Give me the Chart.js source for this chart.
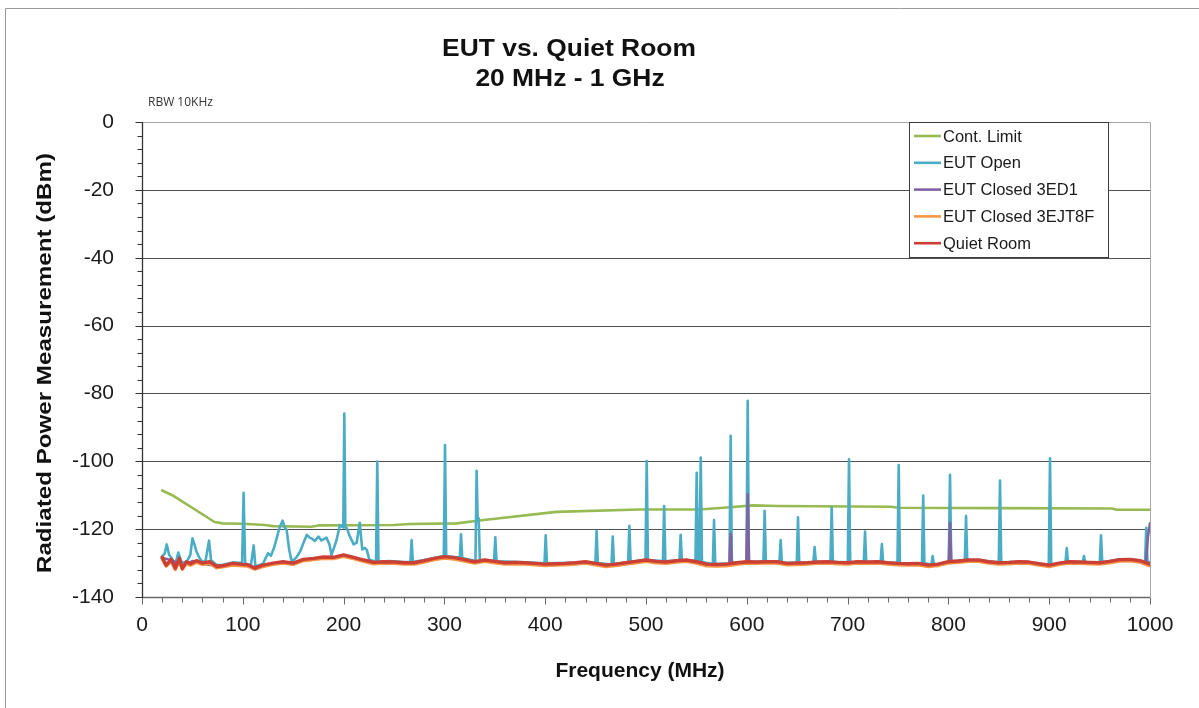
<!DOCTYPE html>
<html>
<head>
<meta charset="utf-8">
<script src="https://cdn.jsdelivr.net/npm/chart.js@4/dist/chart.umd.min.js"></script>
<style>
html,body{margin:0;padding:0;background:#fff;}
#c{display:block;}
</style>
</head>
<body>
<canvas id="c" width="1199" height="708"></canvas>
<script>
// ---------- DATA ----------
const titleLines = ["EUT vs. Quiet Room", "20 MHz - 1 GHz"];
const noteText = "RBW 10KHz";
const xTitle = "Frequency (MHz)";
const yTitle = "Radiated Power Measurement (dBm)";
const seriesNames = ["Cont. Limit", "EUT Open", "EUT Closed 3ED1", "EUT Closed 3EJT8F", "Quiet Room"];
const seriesColors = ["#98BA52", "#4BACC6", "#8064A2", "#F79646", "#CC3F34"];

// Cont. Limit
const limitFreq = [20, 30, 72, 80, 100, 122, 130, 168, 175, 250,
  266, 312, 339, 411, 494, 553, 580, 606, 630, 743,
  750, 854, 962, 967, 1000];
const limitDbm = [-108.6, -110.0, -117.9, -118.3, -118.4, -118.8, -119.1, -119.3, -118.9, -118.8,
  -118.5, -118.3, -117.3, -114.9, -114.2, -114.2, -113.6, -113.0, -113.2, -113.4,
  -113.7, -113.8, -113.9, -114.3, -114.3];

// Noise floor frequency grid (Quiet Room and EUT Closed 3EJT8F)
const floorFreq = [20, 24, 29, 33, 37, 40, 44, 48, 54, 60,
  67, 74, 80, 90, 100, 105, 112, 120, 130, 140,
  150, 160, 170, 180, 190, 200, 210, 220, 230, 240,
  250, 260, 270, 280, 290, 300, 310, 320, 330, 340,
  350, 360, 370, 380, 390, 400, 410, 420, 430, 440,
  450, 460, 470, 480, 490, 500, 510, 520, 530, 540,
  550, 560, 570, 580, 590, 600, 610, 620, 630, 640,
  650, 660, 670, 680, 690, 700, 710, 720, 730, 740,
  750, 760, 770, 780, 790, 800, 810, 820, 830, 840,
  850, 860, 870, 880, 890, 900, 910, 920, 930, 940,
  950, 960, 970, 980, 990, 1000];

const quietDbm = [-128.3, -130.6, -128.9, -131.5, -128.6, -131.6, -129.6, -130.2, -129.3, -130.0,
  -129.6, -131.0, -130.8, -130.1, -130.4, -130.5, -131.5, -130.6, -130.0, -129.6,
  -130.0, -128.9, -128.6, -128.2, -128.3, -127.6, -128.3, -129.1, -129.8, -129.6,
  -129.7, -129.9, -129.9, -129.3, -128.6, -128.1, -128.4, -129.0, -129.6, -129.1,
  -129.5, -129.9, -129.8, -129.9, -130.1, -130.3, -130.2, -130.1, -129.9, -129.6,
  -130.1, -130.6, -130.3, -129.9, -129.5, -129.1, -129.5, -129.7, -129.3, -129.1,
  -129.6, -130.3, -130.4, -130.3, -129.9, -129.6, -129.7, -129.6, -129.6, -130.1,
  -130.0, -129.9, -129.7, -129.6, -129.8, -129.9, -129.6, -129.7, -129.6, -129.9,
  -130.1, -130.2, -130.1, -130.6, -130.3, -129.6, -129.4, -129.1, -129.1, -129.6,
  -129.9, -129.8, -129.6, -129.7, -130.2, -130.6, -130.0, -129.6, -129.7, -129.8,
  -129.9, -129.5, -129.0, -128.9, -129.3, -130.3];

const closedBDbm = [-128.8, -130.9, -129.4, -131.9, -129.1, -131.8, -130.1, -130.6, -129.8, -130.4,
  -130.0, -131.4, -131.1, -130.6, -130.8, -130.9, -131.8, -131.0, -130.4, -130.0,
  -130.4, -129.3, -129.0, -128.6, -128.7, -128.0, -128.7, -129.5, -130.2, -130.0,
  -130.1, -130.3, -130.3, -129.7, -129.0, -128.5, -128.8, -129.4, -130.0, -129.5,
  -129.9, -130.3, -130.2, -130.3, -130.5, -130.7, -130.6, -130.5, -130.3, -130.0,
  -130.5, -131.0, -130.7, -130.3, -129.9, -129.5, -129.9, -130.1, -129.7, -129.5,
  -130.0, -130.8, -130.9, -130.8, -130.4, -130.0, -130.1, -130.0, -130.0, -130.5,
  -130.4, -130.3, -130.1, -130.0, -130.2, -130.3, -130.0, -130.1, -130.0, -130.3,
  -130.5, -130.6, -130.5, -131.0, -130.7, -130.0, -129.8, -129.5, -129.5, -130.0,
  -130.3, -130.2, -130.0, -130.1, -130.6, -131.0, -130.4, -130.0, -130.1, -130.2,
  -130.3, -129.9, -129.4, -129.3, -129.7, -130.8];

// EUT Closed 3ED1
const closedAFreq = [20, 30, 40, 50, 60, 70, 80, 90, 100, 110,
  120, 130, 140, 150, 160, 170, 180, 190, 200, 210,
  220, 230, 240, 250, 260, 270, 280, 290, 300, 310,
  320, 330, 340, 350, 360, 370, 380, 390, 400, 410,
  420, 430, 440, 450, 460, 470, 480, 490, 500, 510,
  520, 530, 540, 550, 560, 570, 580,
  582.8, 584, 585.2, 590,
  599.6, 600.9, 602.2,
  610, 620, 630, 640, 650, 660, 670, 680, 690, 700,
  710, 720, 730, 740, 750, 760, 770, 780, 790,
  800.4, 801.6, 802.8,
  810, 820, 830, 840, 850, 860, 870, 880, 890, 900,
  910, 920, 930, 940, 950, 960, 970, 980, 990,
  996, 998, 1000];
const closedADbm = [-128.5, -129.2, -131.0, -129.4, -130.2, -130.6, -130.9, -130.3, -130.5, -131.2,
  -130.7, -130.1, -129.8, -130.1, -129.1, -128.8, -128.4, -128.5, -127.9, -128.5,
  -129.3, -129.9, -129.8, -129.9, -130.0, -130.0, -129.5, -128.8, -128.3, -128.6,
  -129.2, -129.8, -129.3, -129.7, -130.0, -130.0, -130.1, -130.2, -130.4, -130.4,
  -130.3, -130.1, -129.8, -130.3, -130.7, -130.5, -130.1, -129.7, -129.3, -129.7,
  -129.9, -129.5, -129.3, -129.8, -130.5, -130.6, -130.4,
  -130.2, -121.4, -130.2, -130.0,
  -129.8, -109.7, -129.8,
  -129.9, -129.8, -129.8, -130.2, -130.1, -130.0, -129.9, -129.8, -130.0, -130.1,
  -129.8, -129.9, -129.8, -130.1, -130.3, -130.4, -130.3, -130.7, -130.5,
  -129.8, -118.1, -129.6,
  -129.6, -129.3, -129.3, -129.8, -130.1, -130.0, -129.8, -129.9, -130.4, -130.7,
  -130.2, -129.8, -129.9, -130.0, -130.1, -129.7, -129.2, -129.1, -129.5,
  -129.8, -122.0, -118.3];

// EUT Open
const openFreq = [20, 22.5, 24.5, 27, 30, 33, 36, 39, 42, 45,
  48, 50, 52, 54, 57, 60, 63, 66.5, 68.5, 74,
  80, 90, 99.3, 100.8, 102.3, 108, 110.8, 112.5, 120, 125,
  128, 131, 133.6, 136.5, 139.5, 141.5, 143.5, 146, 148.5, 153,
  157, 160, 163.4, 166, 168, 171.5, 175, 178, 180, 183,
  186, 188, 191, 193, 196.4, 199.7, 200.7, 201.7, 203.2, 206,
  210, 213, 216, 218.5, 221, 223, 225.5, 232.2, 233.4, 234.6,
  245, 260, 266.3, 267.5, 268.7, 280, 299.4, 300.6, 301.8, 315.3,
  316.5, 317.7, 330.8, 332, 333, 334, 335.2, 349.3, 350.5, 351.7,
  375, 399.3, 400.5, 401.7, 425, 449.8, 451, 452.2, 465.8, 467,
  468.2, 482.3, 483.5, 484.7, 499.5, 500.7, 501.9, 516.8, 518, 519.2,
  533.2, 534.4, 535.6, 549.1, 550.3, 551.5, 553.1, 554.3, 555.5, 566.3,
  567.5, 568.7, 582.8, 584, 585.2, 599.7, 600.9, 602.1, 616.5, 617.7,
  618.9, 632.4, 633.6, 634.8, 649.6, 650.8, 652, 666.1, 667.3, 668.5,
  683, 684.2, 685.4, 700.2, 701.4, 702.6, 716.1, 717.3, 718.5, 732.8,
  734, 735.2, 749.5, 750.7, 751.9, 773.8, 775, 776.2, 783.2, 784.4,
  785.6, 800.4, 801.6, 802.8, 816.3, 817.5, 818.7, 835, 850, 851.2,
  852.4, 875, 899.6, 900.8, 902, 916.2, 917.4, 918.6, 933.3, 934.5,
  935.7, 950.2, 951.4, 952.6, 970, 985, 995.1, 996.3, 997.5, 1000];
const openDbm = [-128.0, -127.2, -124.5, -127.6, -128.8, -130.5, -126.9, -129.5, -130.0, -129.3,
  -127.5, -122.7, -124.5, -126.6, -128.5, -129.6, -129.4, -123.4, -129.2, -130.6,
  -130.5, -129.8, -130.0, -109.3, -130.0, -130.8, -124.8, -131.0, -130.2, -127.1,
  -127.8, -125.5, -122.7, -119.5, -117.5, -119.5, -120.2, -126.0, -129.6, -128.4,
  -126.5, -124.2, -121.7, -122.4, -122.7, -123.5, -122.2, -123.3, -123.0, -122.5,
  -124.5, -127.6, -125.0, -123.2, -118.8, -119.5, -85.9, -119.5, -119.7, -122.0,
  -124.5, -124.0, -118.1, -126.0, -125.5, -126.1, -129.0, -129.6, -100.1, -129.6,
  -129.4, -129.7, -129.7, -123.2, -129.7, -129.1, -127.9, -95.2, -128.0, -128.4,
  -121.5, -128.5, -129.4, -102.8, -117.5, -116.8, -129.2, -129.4, -122.4, -129.5,
  -129.7, -130.1, -121.8, -130.1, -129.9, -129.9, -120.5, -130.0, -130.4, -122.2,
  -130.3, -129.7, -119.0, -129.6, -129.0, -99.9, -129.1, -129.4, -113.2, -129.5,
  -129.2, -121.7, -129.1, -129.3, -103.4, -129.5, -129.5, -98.9, -129.7, -130.3,
  -117.3, -130.3, -130.1, -92.5, -130.0, -129.6, -82.2, -129.6, -129.6, -114.6,
  -129.6, -129.8, -123.2, -129.9, -129.9, -116.5, -129.9, -129.7, -125.3, -129.7,
  -129.6, -113.6, -129.6, -129.8, -99.4, -129.8, -129.6, -120.7, -129.6, -129.7,
  -124.4, -129.8, -130.0, -101.1, -130.1, -130.0, -110.1, -130.1, -130.4, -127.9,
  -130.5, -129.6, -104.0, -129.5, -129.1, -116.1, -129.1, -129.3, -129.8, -105.7,
  -129.8, -129.6, -130.5, -99.1, -130.5, -129.7, -125.6, -129.6, -129.7, -127.9,
  -129.8, -129.8, -121.8, -129.8, -128.9, -129.0, -129.6, -119.6, -129.4, -129.8];

// Axes
const xMin = 0, xMax = 1000, xMajor = 100, xMinor = 20;
const yMin = -140, yMax = 0, yMajor = 20, yMinor = 4;

// ---------- CHART ----------
const FONT = '"Liberation Sans", Arial, sans-serif';
function pts(f, v) { return f.map((x, i) => ({ x: x, y: v[i] })); }

function stretchedText(ctx, text, x, y, font, sx, align, baseline, rot) {
  ctx.save();
  ctx.translate(x, y);
  if (rot) ctx.rotate(rot);
  ctx.scale(sx, 1);
  ctx.font = font;
  ctx.textAlign = align;
  ctx.textBaseline = baseline;
  ctx.fillText(text, 0, 0);
  ctx.restore();
}

const decor = {
  id: 'decor',
  beforeDraw(chart) {
    const ctx = chart.ctx;
    ctx.save();
    ctx.fillStyle = '#ffffff';
    ctx.fillRect(0, 0, chart.width, chart.height);
    // outer frame
    ctx.strokeStyle = '#9a9a9a';
    ctx.lineWidth = 1;
    ctx.beginPath();
    ctx.moveTo(5.5, chart.height);
    ctx.lineTo(5.5, 8.5);
    ctx.lineTo(chart.width, 8.5);
    ctx.stroke();
    // titles
    ctx.fillStyle = '#111111';
    stretchedText(ctx, titleLines[0], 569, 56, 'bold 24px ' + FONT, 1.1, 'center', 'alphabetic');
    stretchedText(ctx, titleLines[1], 570, 86, 'bold 24px ' + FONT, 1.1, 'center', 'alphabetic');
    ctx.fillStyle = '#333333';
    stretchedText(ctx, noteText, 148, 106, '12px "Open Sans", sans-serif', 1.0, 'left', 'alphabetic');
    // axis titles
    ctx.fillStyle = '#111111';
    stretchedText(ctx, xTitle, 640, 677, 'bold 21px ' + FONT, 1.0, 'center', 'alphabetic');
    stretchedText(ctx, yTitle, 51, 363, 'bold 21px ' + FONT, 1.15, 'center', 'alphabetic', -Math.PI / 2);
    ctx.restore();
  },
  beforeDatasetsDraw(chart) {
    const ctx = chart.ctx, a = chart.chartArea, ys = chart.scales.y;
    ctx.save();
    ctx.lineWidth = 1.2;
    ctx.strokeStyle = '#505050';
    for (let v = yMin + yMajor; v < yMax; v += yMajor) {
      const p = Math.round(ys.getPixelForValue(v)) + 0.5;
      ctx.beginPath(); ctx.moveTo(a.left, p); ctx.lineTo(a.right, p); ctx.stroke();
    }
    ctx.lineWidth = 1;
    ctx.strokeStyle = '#a8a8a8';
    const top = Math.round(ys.getPixelForValue(yMax)) + 0.5;
    ctx.beginPath();
    ctx.moveTo(a.left, top); ctx.lineTo(Math.round(a.right) + 0.5, top);
    ctx.lineTo(Math.round(a.right) + 0.5, a.bottom);
    ctx.stroke();
    ctx.restore();
  },
  afterDatasetsDraw(chart) {
    const ctx = chart.ctx, a = chart.chartArea, xs = chart.scales.x, ys = chart.scales.y;
    ctx.save();
    // bottom axis + ticks
    const by = Math.round(ys.getPixelForValue(yMin)) + 0.5;
    ctx.strokeStyle = '#6a6a6a';
    ctx.lineWidth = 1.3;
    ctx.beginPath(); ctx.moveTo(a.left, by); ctx.lineTo(a.right, by); ctx.stroke();
    ctx.lineWidth = 1;
    for (let v = xMin; v <= xMax; v += xMinor) {
      const p = Math.round(xs.getPixelForValue(v)) + 0.5;
      const len = (v % xMajor === 0) ? 7 : 5;
      ctx.beginPath(); ctx.moveTo(p, by); ctx.lineTo(p, by + len); ctx.stroke();
    }
    // left axis + ticks
    const lx = Math.round(xs.getPixelForValue(xMin)) + 0.5;
    ctx.strokeStyle = '#333333';
    ctx.lineWidth = 1.3;
    ctx.beginPath(); ctx.moveTo(lx, a.top); ctx.lineTo(lx, a.bottom + 1); ctx.stroke();
    ctx.lineWidth = 1;
    for (let v = yMin; v <= yMax; v += yMinor) {
      const p = Math.round(ys.getPixelForValue(v)) + 0.5;
      const len = (v % yMajor === 0) ? 7 : 5;
      ctx.beginPath(); ctx.moveTo(lx - len, p); ctx.lineTo(lx, p); ctx.stroke();
    }
    // legend
    const L = a.right - 241, T = a.top, W = 199, H = 135;
    ctx.fillStyle = '#ffffff';
    ctx.fillRect(L, T, W, H);
    ctx.strokeStyle = '#3c3c3c';
    ctx.lineWidth = 1;
    ctx.strokeRect(Math.round(L) + 0.5, Math.round(T) + 0.5, W, H);
    ctx.font = '16.5px ' + FONT;
    ctx.textAlign = 'left';
    ctx.textBaseline = 'middle';
    for (let i = 0; i < seriesNames.length; i++) {
      const cy = T + 14 + i * 26.8;
      ctx.strokeStyle = seriesColors[i];
      ctx.lineWidth = 2.6;
      ctx.beginPath(); ctx.moveTo(L + 5, cy); ctx.lineTo(L + 32, cy); ctx.stroke();
      ctx.fillStyle = '#1a1a1a';
      ctx.fillText(seriesNames[i], L + 34, cy + 1);
    }
    ctx.restore();
  }
};

function ds(i, data, width, order) {
  return {
    label: seriesNames[i], data: data, borderColor: seriesColors[i], backgroundColor: seriesColors[i],
    borderWidth: width, pointRadius: 0, fill: false, tension: 0, order: order,
    borderJoinStyle: 'round', borderCapStyle: 'round'
  };
}

new Chart(document.getElementById('c'), {
  type: 'line',
  data: {
    datasets: [
      ds(0, pts(limitFreq, limitDbm), 2.6, 5),
      ds(1, pts(openFreq, openDbm), 2.6, 4),
      ds(2, pts(closedAFreq, closedADbm), 2.6, 3),
      ds(3, pts(floorFreq, closedBDbm), 3.4, 2),
      ds(4, pts(floorFreq, quietDbm), 3.4, 1)
    ]
  },
  options: {
    responsive: false,
    animation: false,
    devicePixelRatio: 1,
    events: [],
    layout: { padding: { top: 122, right: 49, bottom: 0, left: 0 } },
    plugins: { legend: { display: false }, title: { display: false }, tooltip: { enabled: false } },
    scales: {
      x: {
        type: 'linear', min: xMin, max: xMax,
        grid: { display: false }, border: { display: false },
        ticks: { stepSize: xMajor, color: '#1a1a1a', font: { family: FONT, size: 21 }, padding: 8, maxRotation: 0,
                 callback: v => String(v) },
        afterFit: s => { s.height = 111; }
      },
      y: {
        min: yMin, max: yMax,
        grid: { display: false }, border: { display: false },
        ticks: { stepSize: yMajor, color: '#1a1a1a', font: { family: FONT, size: 21 }, padding: 20,
                 callback: v => String(v) },
        afterFit: s => { s.width = 142; }
      }
    }
  },
  plugins: [decor]
});
</script>
</body>
</html>
